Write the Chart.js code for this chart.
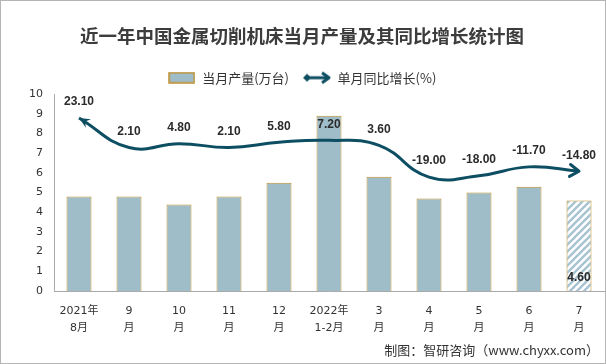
<!DOCTYPE html>
<html lang="zh">
<head>
<meta charset="UTF-8">
<title>近一年中国金属切削机床当月产量及其同比增长统计图</title>
<script src="https://cdn.jsdelivr.net/npm/chart.js"></script>
<style>
  body { margin: 0; background: #fff; }
  #wrap { width: 606px; height: 364px; }
</style>
</head>
<body>
<div id="wrap"><canvas id="chart" width="606" height="364"></canvas></div>
<script>
// data
const months = [['2021年', '8月'], ['9', '月'], ['10', '月'], ['11', '月'], ['12', '月'],
                ['2022年', '1-2月'], ['3', '月'], ['4', '月'], ['5', '月'], ['6', '月'], ['7', '月']];
const output = [4.8, 4.8, 4.4, 4.8, 5.5, 8.9, 5.8, 4.7, 5.0, 5.3, 4.6];   // 当月产量(万台)
const growth = [23.1, 2.1, 4.8, 2.1, 5.8, 7.2, 3.6, -19.0, -18.0, -11.7, -14.8]; // 单月同比增长(%)
const lastLabel = '4.60';

const BAR_FILL = '#9fbdc9';
const BAR_EDGE = '#bf8f2e';
const LINE_COLOR = '#0e4e63';
const CJK = "'Noto Sans CJK SC', sans-serif";
const NUM = "'DejaVu Sans', 'Noto Sans CJK SC', sans-serif";

// hatched fill for the latest month
function hatch() {
    const c = document.createElement('canvas');
    c.width = 7; c.height = 7;
    const g = c.getContext('2d');
    g.fillStyle = '#fff';
    g.fillRect(0, 0, 7, 7);
    g.strokeStyle = '#a7c3d1';
    g.lineWidth = 2.4;
    [[-7, 7, 7, -7], [0, 7, 7, 0], [0, 14, 14, 0]].forEach(([a, b, c2, d]) => {
        g.beginPath(); g.moveTo(a, b); g.lineTo(c2, d); g.stroke();
    });
    return c;
}

// legend icons
function barIcon() {
    const c = document.createElement('canvas');
    c.width = 27; c.height = 12;
    const g = c.getContext('2d');
    g.fillStyle = BAR_FILL;
    g.fillRect(1, 1, 25, 10);
    g.strokeStyle = BAR_EDGE;
    g.lineWidth = 1.5;
    g.strokeRect(1, 1, 25, 10);
    return c;
}
function arrowIcon() {
    const c = document.createElement('canvas');
    c.width = 30; c.height = 14;
    const g = c.getContext('2d');
    g.strokeStyle = LINE_COLOR;
    g.fillStyle = LINE_COLOR;
    g.lineWidth = 3;
    g.beginPath(); g.moveTo(5, 7); g.lineTo(26, 7); g.stroke();
    g.beginPath(); g.moveTo(1, 7); g.lineTo(5, 3); g.lineTo(9, 7); g.lineTo(5, 11); g.closePath(); g.fill();
    g.lineJoin = 'round';
    g.beginPath(); g.moveTo(20, 2); g.lineTo(27, 7); g.lineTo(20, 12); g.stroke();
    return c;
}

const fills = output.map((v, i) => i === output.length - 1 ? null : BAR_FILL);

const decor = {
    id: 'decor',
    afterDatasetsDraw(chart) {
        const ctx = chart.ctx;
        const pts = chart.getDatasetMeta(1).data;
        ctx.save();
        ctx.fillStyle = LINE_COLOR;
        ctx.strokeStyle = LINE_COLOR;

        // start arrow (filled)
        const a = pts[0];
        let dx = a.x - a.cp2x, dy = a.y - a.cp2y, l = Math.hypot(dx, dy) || 1;
        dx /= l; dy /= l;
        ctx.beginPath();
        ctx.moveTo(a.x, a.y);
        ctx.lineTo(a.x - dx * 11 - dy * 5, a.y - dy * 11 + dx * 5);
        ctx.lineTo(a.x - dx * 7, a.y - dy * 7);
        ctx.lineTo(a.x - dx * 11 + dy * 5, a.y - dy * 11 - dx * 5);
        ctx.closePath();
        ctx.fill();

        // end arrow (open)
        const b = pts[pts.length - 1];
        dx = b.x - b.cp1x; dy = b.y - b.cp1y; l = Math.hypot(dx, dy) || 1;
        dx /= l; dy /= l;
        ctx.lineWidth = 3;
        ctx.lineJoin = 'round';
        ctx.lineCap = 'round';
        ctx.beginPath();
        ctx.moveTo(b.x - dx * 9 - dy * 6, b.y - dy * 9 + dx * 6);
        ctx.lineTo(b.x, b.y);
        ctx.lineTo(b.x - dx * 9 + dy * 6, b.y - dy * 9 - dx * 6);
        ctx.stroke();

        // value labels on the line
        ctx.fillStyle = '#2b2b2b';
        ctx.font = "bold 12px 'Liberation Sans', sans-serif";
        ctx.textAlign = 'center';
        ctx.textBaseline = 'middle';
        pts.forEach((p, i) => ctx.fillText(growth[i].toFixed(2), p.x, p.y - 16));

        // label inside the hatched bar
        const bars = chart.getDatasetMeta(0).data;
        const last = bars[bars.length - 1];
        ctx.fillText(lastLabel, last.x, last.base - 13);
        ctx.restore();
    },
    afterDraw(chart) {
        const ctx = chart.ctx;
        ctx.save();
        ctx.fillStyle = '#333';
        ctx.font = "13px " + CJK;
        ctx.textAlign = 'right';
        ctx.textBaseline = 'middle';
        ctx.fillText('制图：智研咨询（www.chyxx.com）', 599, 350);
        ctx.strokeStyle = '#b5b5b5';
        ctx.lineWidth = 1;
        ctx.strokeRect(0.5, 0.5, chart.width - 1, chart.height - 1);
        ctx.restore();
    }
};

const canvas = document.getElementById('chart');
const hatchPattern = canvas.getContext('2d').createPattern(hatch(), 'repeat');
fills[fills.length - 1] = hatchPattern;

new Chart(canvas, {
    data: {
        labels: months,
        datasets: [{
            type: 'bar',
            label: '当月产量(万台)',
            data: output,
            backgroundColor: fills,
            borderColor: BAR_EDGE,
            borderWidth: 1,
            categoryPercentage: 1,
            barPercentage: 0.5,
            yAxisID: 'y',
            order: 1
        }, {
            type: 'line',
            label: '单月同比增长(%)',
            data: growth,
            borderColor: LINE_COLOR,
            borderWidth: 3,
            pointRadius: 0,
            tension: 0.45,
            fill: false,
            yAxisID: 'y1',
            order: 0
        }]
    },
    options: {
        responsive: false,
        animation: false,
        events: [],
        layout: { padding: { top: 16, right: 2, left: 0, bottom: 0 } },
        scales: {
            x: {
                grid: { display: false, drawTicks: false },
                border: { color: '#aaa' },
                ticks: { color: '#333', font: { family: NUM, size: 11, lineHeight: 1.55 }, padding: 12, maxRotation: 0, autoSkip: false },
                afterFit(s) { s.height = 73; }
            },
            y: {
                min: 0,
                max: 10,
                grid: { display: false, drawTicks: false },
                border: { color: '#aaa' },
                ticks: { stepSize: 1, color: '#333', font: { family: NUM, size: 11 }, padding: 11 },
                afterFit(s) { s.width = 54; }
            },
            y1: { display: false, min: -100, max: 40 }
        },
        plugins: {
            title: {
                display: true,
                text: '近一年中国金属切削机床当月产量及其同比增长统计图',
                color: '#3c3c3c',
                font: { family: CJK, size: 18.5, weight: 'bold' },
                padding: { top: 9, bottom: 10 }
            },
            legend: {
                labels: {
                    usePointStyle: true,
                    pointStyleWidth: 28,
                    padding: 14,
                    color: '#333',
                    font: { family: CJK, size: 13 },
                    generateLabels() {
                        return [
                            { text: '当月产量(万台)', pointStyle: barIcon(), fontColor: '#333', hidden: false, datasetIndex: 0, lineWidth: 0 },
                            { text: '单月同比增长(%)', pointStyle: arrowIcon(), fontColor: '#333', hidden: false, datasetIndex: 1, lineWidth: 0 }
                        ];
                    }
                }
            },
            tooltip: { enabled: false }
        }
    },
    plugins: [decor]
});
</script>
</body>
</html>
